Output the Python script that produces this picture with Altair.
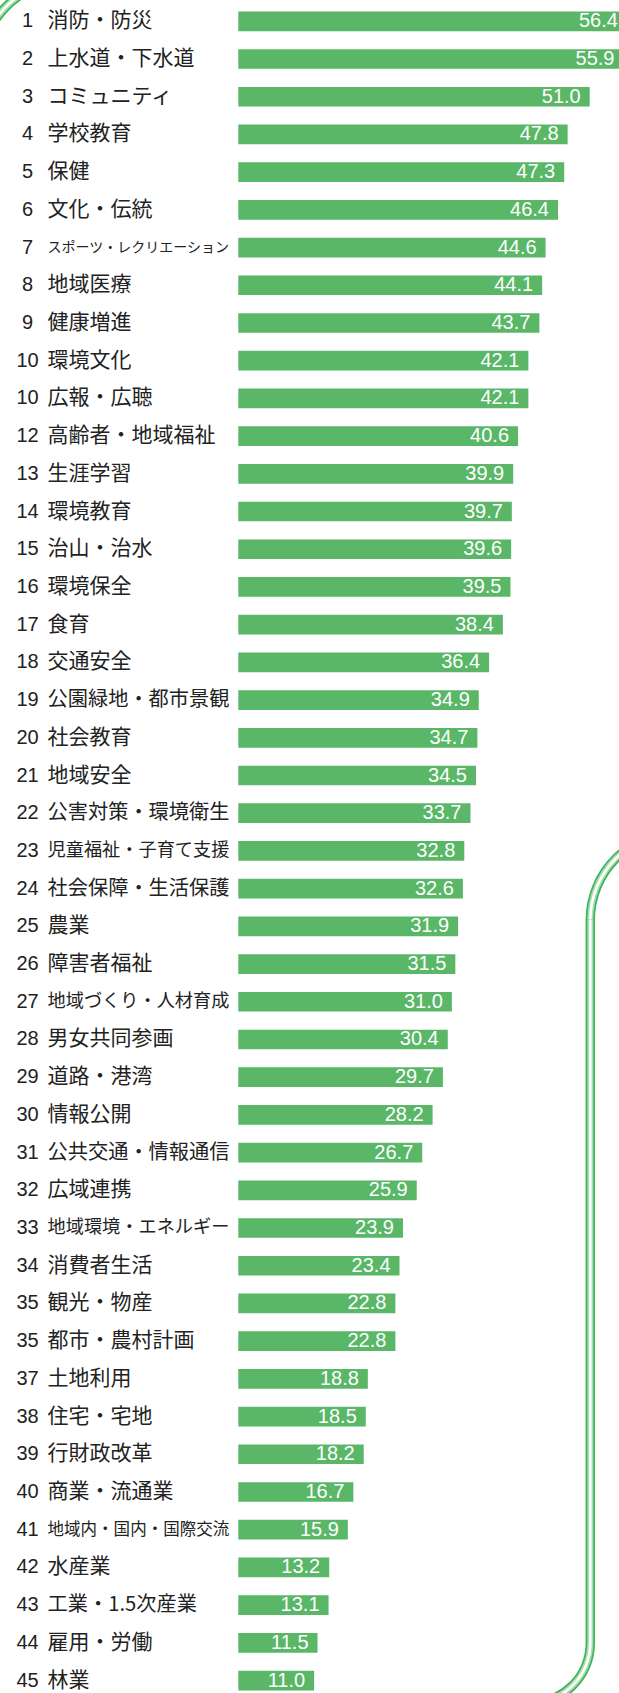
import altair as alt
import pandas as pd

ranks = [1, 2, 3, 4, 5, 6, 7, 8, 9, 10, 10, 12, 13, 14, 15, 16, 17, 18, 19, 20,
         21, 22, 23, 24, 25, 26, 27, 28, 29, 30, 31, 32, 33, 34, 35, 35, 37, 38,
         39, 40, 41, 42, 43, 44, 45]
names = ["消防・防災", "上水道・下水道", "コミュニティ", "学校教育", "保健", "文化・伝統",
         "スポーツ・レクリエーション", "地域医療", "健康増進", "環境文化", "広報・広聴",
         "高齢者・地域福祉", "生涯学習", "環境教育", "治山・治水", "環境保全", "食育",
         "交通安全", "公園緑地・都市景観", "社会教育", "地域安全", "公害対策・環境衛生",
         "児童福祉・子育て支援", "社会保障・生活保護", "農業", "障害者福祉",
         "地域づくり・人材育成", "男女共同参画", "道路・港湾", "情報公開",
         "公共交通・情報通信", "広域連携", "地域環境・エネルギー", "消費者生活",
         "観光・物産", "都市・農村計画", "土地利用", "住宅・宅地", "行財政改革",
         "商業・流通業", "地域内・国内・国際交流", "水産業", "工業・1.5次産業",
         "雇用・労働", "林業"]
values = [56.4, 55.9, 51.0, 47.8, 47.3, 46.4, 44.6, 44.1, 43.7, 42.1, 42.1, 40.6,
          39.9, 39.7, 39.6, 39.5, 38.4, 36.4, 34.9, 34.7, 34.5, 33.7, 32.8, 32.6,
          31.9, 31.5, 31.0, 30.4, 29.7, 28.2, 26.7, 25.9, 23.9, 23.4, 22.8, 22.8,
          18.8, 18.5, 18.2, 16.7, 15.9, 13.2, 13.1, 11.5, 11.0]

df = pd.DataFrame({"idx": list(range(len(names))), "rank": ranks,
                   "name": names, "value": values})

W, H = 619, 1693
BAR_GREEN = "#59b767"
DECO_GREEN = "#3db458"
DECO_LIGHT = "#a9dcb2"

step = 37.71
y0 = 21.3 - step / 2
yscale = alt.Scale(range=[y0, y0 + step * len(names)], paddingInner=0.478,
                   paddingOuter=0.239)
xscale = alt.Scale(domain=[0, 60], range=[238.3, 238.3 + 60 * 6.89], nice=False,
                   zero=True)

Y = alt.Y("idx:O", scale=yscale, axis=None, sort="ascending")

base = alt.Chart(df)

bars = base.mark_bar(color=BAR_GREEN, clip=True).encode(
    y=Y, x=alt.X("value:Q", scale=xscale, axis=None)
)

vals = base.mark_text(align="right", baseline="middle", dx=-9, color="white",
                      font="Liberation Sans", fontSize=20).encode(
    y=Y, x=alt.X("value:Q", scale=xscale, axis=None),
    text=alt.Text("value:Q", format=".1f")
)

rank_txt = base.mark_text(align="center", baseline="middle", color="#222222",
                          font="Liberation Sans", fontSize=20).encode(
    y=Y, x=alt.value(27.5), text=alt.Text("rank:Q", format="d")
)

name_txt = base.transform_calculate(
    fs="min(21, 182 / length(datum.name))"
).mark_text(align="left", baseline="middle", color="#222222",
            font="Noto Sans CJK JP").encode(
    y=Y, x=alt.value(47.5), text="name:N",
    size=alt.Size("fs:Q", scale=None, legend=None)
)

one = pd.DataFrame({"a": [0]})


def ring(cx, cy, r, t1, t2):
    layers = []
    for half, col in [(4.7, DECO_GREEN), (3.0, DECO_LIGHT), (1.3, "white")]:
        layers.append(
            alt.Chart(one).mark_arc(radius=r - half, radius2=r + half, theta=t1,
                                    theta2=t2, color=col, clip=True)
            .encode(x=alt.value(cx), y=alt.value(cy))
        )
    return layers


def vbar(xc, ya, yb):
    layers = []
    for half, col in [(4.7, DECO_GREEN), (3.0, DECO_LIGHT), (1.3, "white")]:
        layers.append(
            alt.Chart(one).mark_rect(color=col, clip=True).encode(
                x=alt.value(xc - half), x2=alt.value(xc + half),
                y=alt.value(ya), y2=alt.value(yb))
        )
    return layers


PI = 3.141592653589793
deco = []
deco += ring(70, 70, 90, 1.5 * PI, 2 * PI)          # top-left corner
deco += ring(590.3 + 87, 920, 87, 1.5 * PI, 2 * PI)  # right upper bend
deco += vbar(590.3, 919.5, 1643.5)                   # right vertical edge
deco += ring(590.3 - 60, 1643, 60, 0.5 * PI, PI)    # right lower bend

chart = alt.layer(*deco, bars, vals, rank_txt, name_txt).properties(
    width=W, height=H,
    autosize=alt.AutoSizeParams(type="none"),
    padding=0,
).configure_view(stroke=None)

chart.save("out.html", embed_options={"renderer": "svg", "actions": False})
